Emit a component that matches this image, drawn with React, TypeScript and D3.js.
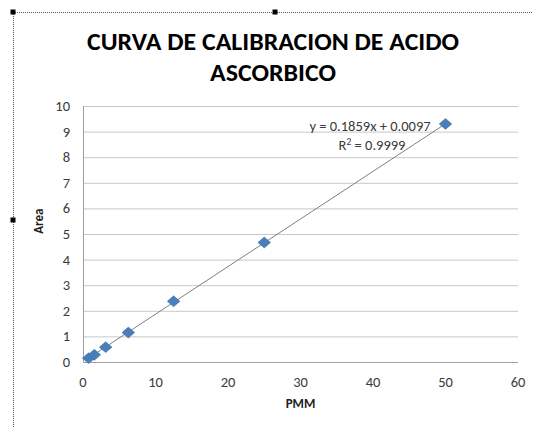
import React, { useRef, useEffect } from "react";
import * as d3 from "d3";

const concentrations = [0.78, 1.56, 3.125, 6.25, 12.5, 25, 50];
const areas = [0.15, 0.28, 0.58, 1.15, 2.37, 4.67, 9.3];
const xTicks = [0, 10, 20, 30, 40, 50, 60];
const yTicks = [0, 1, 2, 3, 4, 5, 6, 7, 8, 9, 10];
const slope = 0.1859;
const intercept = 0.0097;

function App() {
  const ref = useRef<SVGSVGElement>(null);
  const width = 533;
  const height = 427;

  useEffect(() => {
    const svg = d3.select(ref.current);
    svg.selectAll("*").remove();
    const font = "Carlito, 'Open Sans', 'Liberation Sans', sans-serif";

    const x = d3.scaleLinear().domain([0, 60]).range([83, 518]);
    const y = d3.scaleLinear().domain([0, 10]).range([362, 106]);

    svg.append("rect").attr("width", width).attr("height", height).attr("fill", "#fff");

    // dotted chart border
    svg.append("path")
      .attr("d", "M13.5,427 V12.5 H533")
      .attr("fill", "none")
      .attr("stroke", "#555")
      .attr("stroke-dasharray", "1,1");
    [[13, 12], [275, 12], [13, 220]].forEach(([hx, hy]) => {
      svg.append("rect").attr("x", hx - 2.5).attr("y", hy - 2.5).attr("width", 5).attr("height", 5).attr("fill", "#000");
    });

    // title
    const title = svg.append("text")
      .attr("text-anchor", "middle")
      .attr("font-family", font)
      .attr("font-weight", "bold")
      .attr("font-size", 25)
      .attr("fill", "#000");
    title.append("tspan").attr("x", 273).attr("y", 50)
      .attr("textLength", 372).attr("lengthAdjust", "spacingAndGlyphs")
      .text("CURVA DE CALIBRACION DE ACIDO");
    title.append("tspan").attr("x", 273).attr("y", 81)
      .attr("textLength", 126).attr("lengthAdjust", "spacingAndGlyphs")
      .text("ASCORBICO");

    // gridlines
    svg.append("g").selectAll("line")
      .data(yTicks.slice(1))
      .join("line")
      .attr("x1", x(0)).attr("x2", x(60))
      .attr("y1", d => y(d) + 0.5).attr("y2", d => y(d) + 0.5)
      .attr("stroke", "#c8c8c8");

    // axes
    svg.append("line").attr("x1", x(0)).attr("x2", x(60))
      .attr("y1", y(0) + 0.5).attr("y2", y(0) + 0.5).attr("stroke", "#a0a0a0");
    svg.append("line").attr("x1", x(0) + 0.5).attr("x2", x(0) + 0.5)
      .attr("y1", y(10)).attr("y2", y(0)).attr("stroke", "#a0a0a0");

    svg.append("g").selectAll("text")
      .data(yTicks)
      .join("text")
      .attr("x", 70).attr("y", d => y(d) + 5)
      .attr("text-anchor", "end")
      .attr("font-family", font).attr("font-size", 14.5).attr("fill", "#3a3a3a")
      .text(d => d);

    svg.append("g").selectAll("text")
      .data(xTicks)
      .join("text")
      .attr("x", d => x(d)).attr("y", 387)
      .attr("text-anchor", "middle")
      .attr("font-family", font).attr("font-size", 14.5).attr("fill", "#3a3a3a")
      .text(d => d);

    svg.append("text")
      .attr("x", x(30)).attr("y", 408)
      .attr("text-anchor", "middle")
      .attr("font-family", font).attr("font-weight", "bold").attr("font-size", 13)
      .attr("fill", "#202020")
      .text("PMM");

    svg.append("text")
      .attr("transform", `translate(43,${y(5.5)}) rotate(-90)`)
      .attr("text-anchor", "middle")
      .attr("font-family", font).attr("font-weight", "bold").attr("font-size", 13)
      .attr("fill", "#202020")
      .text("Area");

    // trendline
    const xmin = d3.min(concentrations) as number;
    const xmax = d3.max(concentrations) as number;
    svg.append("line")
      .attr("x1", x(xmin)).attr("y1", y(slope * xmin + intercept))
      .attr("x2", x(xmax)).attr("y2", y(slope * xmax + intercept))
      .attr("stroke", "#7f7f7f").attr("stroke-width", 1);

    // markers
    const square = d3.symbol().type(d3.symbolSquare).size(66);
    svg.append("g").selectAll("path")
      .data(concentrations.map((c, i) => [c, areas[i]]))
      .join("path")
      .attr("d", square)
      .attr("transform", d => `translate(${x(d[0])},${y(d[1])}) scale(1.1,0.95) rotate(45)`)
      .attr("fill", "#4a7ebb")
      .attr("stroke", "#3f6fa8")
      .attr("stroke-width", 0.5);

    // equation
    svg.append("text")
      .attr("x", 370).attr("y", 131)
      .attr("text-anchor", "middle")
      .attr("font-family", font).attr("font-size", 14.5).attr("fill", "#3a3a3a")
      .text("y = 0.1859x + 0.0097");
    const r = svg.append("text")
      .attr("x", 372).attr("y", 150)
      .attr("text-anchor", "middle")
      .attr("font-family", font).attr("font-size", 14.5).attr("fill", "#3a3a3a");
    r.append("tspan").text("R");
    r.append("tspan").attr("font-size", 9.5).attr("dy", -5).text("2");
    r.append("tspan").attr("dy", 5).text(" = 0.9999");
  }, []);

  return <svg ref={ref} width={width} height={height} style={{ position: "absolute", left: 0, top: 0 }}></svg>;
}

export default App;
